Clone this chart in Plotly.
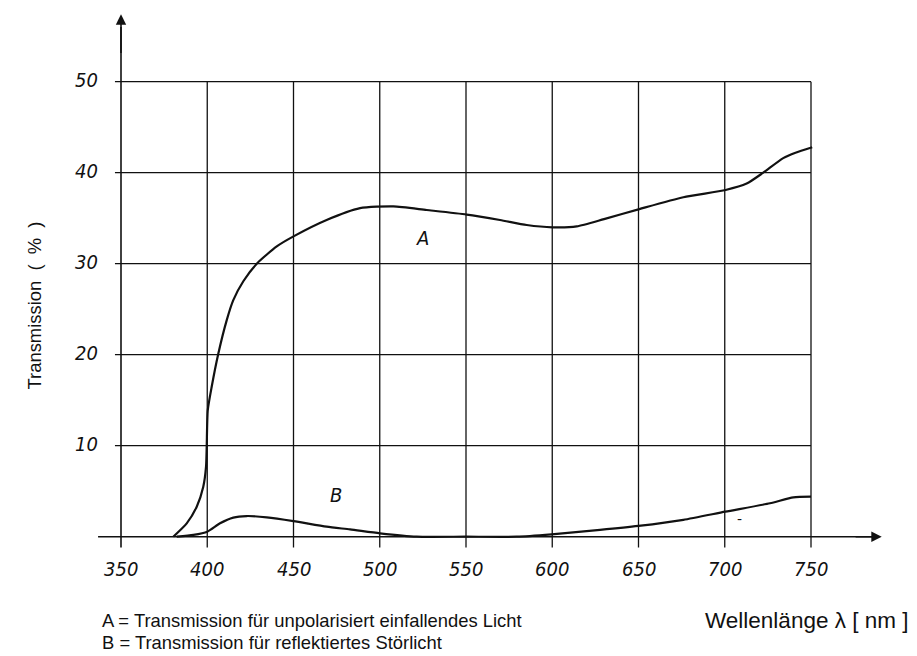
import plotly.graph_objects as go

# ---- data ----
wl_A = [380.3, 388.1, 393.9, 397.7, 399.3, 399.7, 400.3, 402.6, 406.4, 411.3, 415.1,
        421.0, 428.7, 440.3, 450.0, 469.2, 488.6, 507.9, 527.2, 550.4, 569.7, 585.2, 600.2,
        614.2, 630.0, 650.5, 676.0, 700.5, 712.7, 722.3, 733.9, 741.0, 750.7]
tr_A = [0.0, 1.47, 3.3, 5.5, 7.7, 10.0, 13.9, 16.5, 20.1, 23.8, 26.0,
        28.1, 30.0, 31.9, 33.0, 34.8, 36.1, 36.3, 35.9, 35.4, 34.8, 34.25, 34.0,
        34.1, 34.9, 36.0, 37.3, 38.1, 38.8, 40.0, 41.6, 42.2, 42.8]

wl_B = [382.3, 392.0, 400.0, 407.4, 415.1, 422.8, 434.5, 450.0, 469.2, 482.8, 500.1,
        521.4, 550.0, 579.4, 599.6, 627.7, 650.0, 676.0, 700.3, 726.2, 739.8, 750.0]
tr_B = [0.0, 0.2, 0.55, 1.47, 2.1, 2.27, 2.13, 1.72, 1.1, 0.8, 0.37,
        0.0, 0.0, 0.0, 0.26, 0.74, 1.18, 1.85, 2.75, 3.67, 4.33, 4.4]

x_ticks = [350, 400, 450, 500, 550, 600, 650, 700, 750]
y_ticks = [10, 20, 30, 40, 50]

X_RANGE = [287.39, 813.19]
Y_RANGE = [-13.44, 57.55]

BLACK = "#111111"
tick_font = dict(family="DejaVu Sans Condensed, DejaVu Sans", size=20, color=BLACK)
text_font = dict(family="Liberation Sans, Arial", size=18.4, color=BLACK)
big_font = dict(family="Liberation Sans, Arial", size=22.5, color=BLACK)

fig = go.Figure()

fig.add_trace(go.Scatter(x=wl_A, y=tr_A, mode="lines", line=dict(color=BLACK, width=2.2, shape="spline", smoothing=0.6),
                         showlegend=False, hoverinfo="skip"))
fig.add_trace(go.Scatter(x=wl_B, y=tr_B, mode="lines", line=dict(color=BLACK, width=2.2, shape="spline", smoothing=0.6),
                         showlegend=False, hoverinfo="skip"))

shapes = []
for yv in y_ticks:
    shapes.append(dict(type="line", xref="x", yref="y", x0=346.5, x1=750, y0=yv, y1=yv,
                       line=dict(color=BLACK, width=1.3)))
for xv in x_ticks[1:]:
    shapes.append(dict(type="line", xref="x", yref="y", x0=xv, x1=xv, y0=-1.2, y1=50,
                       line=dict(color=BLACK, width=1.3)))
shapes.append(dict(type="line", xref="x", yref="y", x0=350, x1=350, y0=-1.2, y1=56,
                   line=dict(color=BLACK, width=1.6)))
shapes.append(dict(type="line", xref="x", yref="y", x0=336.7, x1=786, y0=0, y1=0,
                   line=dict(color=BLACK, width=1.6)))

annotations = []
annotations.append(dict(x=350, y=57.4, ax=350, ay=53, xref="x", yref="y", axref="x", ayref="y",
                        showarrow=True, arrowhead=2, arrowsize=1.3, arrowwidth=1.6, arrowcolor=BLACK, text=""))
annotations.append(dict(x=791, y=0, ax=775, ay=0, xref="x", yref="y", axref="x", ayref="y",
                        showarrow=True, arrowhead=2, arrowsize=1.3, arrowwidth=1.6, arrowcolor=BLACK, text=""))

for xv in x_ticks:
    annotations.append(dict(x=xv, y=-3.55, xref="x", yref="y", text=f"<i>{xv}</i>", showarrow=False,
                            font=tick_font, xanchor="center", yanchor="middle"))
for yv in y_ticks:
    annotations.append(dict(x=337.8, y=yv + 0.15, xref="x", yref="y", text=f"<i>{yv}</i>", showarrow=False,
                            font=tick_font, xanchor="right", yanchor="middle"))

annotations.append(dict(x=524.5, y=32.8, xref="x", yref="y", text="<i>A</i>", showarrow=False,
                        font=tick_font, xanchor="center", yanchor="middle"))
annotations.append(dict(x=474.6, y=4.58, xref="x", yref="y", text="<i>B</i>", showarrow=False,
                        font=tick_font, xanchor="center", yanchor="middle"))
annotations.append(dict(x=708.4, y=1.9, xref="x", yref="y", text="-", showarrow=False,
                        font=dict(family="DejaVu Sans", size=14, color=BLACK), xanchor="center", yanchor="middle"))

annotations.append(dict(x=300.1, y=25.4, xref="x", yref="y",
                        text="Transmission&nbsp;&nbsp;(&nbsp;&nbsp;%&nbsp;&nbsp;)", showarrow=False,
                        textangle=-90, font=text_font, xanchor="center", yanchor="middle"))
annotations.append(dict(x=337.8, y=-9.26, xref="x", yref="y",
                        text="A = Transmission für unpolarisiert einfallendes Licht", showarrow=False,
                        font=text_font, xanchor="left", yanchor="middle"))
annotations.append(dict(x=337.8, y=-11.6, xref="x", yref="y",
                        text="B = Transmission für reflektiertes Störlicht", showarrow=False,
                        font=text_font, xanchor="left", yanchor="middle"))
annotations.append(dict(x=687.4, y=-9.26, xref="x", yref="y", text="Wellenlänge λ [ nm ]", showarrow=False,
                        font=big_font, xanchor="left", yanchor="middle"))

fig.update_layout(
    width=917, height=656,
    margin=dict(l=5, r=5, t=5, b=5),
    paper_bgcolor="white", plot_bgcolor="white",
    xaxis=dict(range=X_RANGE, visible=False, showgrid=False, zeroline=False, fixedrange=True),
    yaxis=dict(range=Y_RANGE, visible=False, showgrid=False, zeroline=False, fixedrange=True),
    shapes=shapes, annotations=annotations,
    showlegend=False,
)

fig.write_html("out.html")
